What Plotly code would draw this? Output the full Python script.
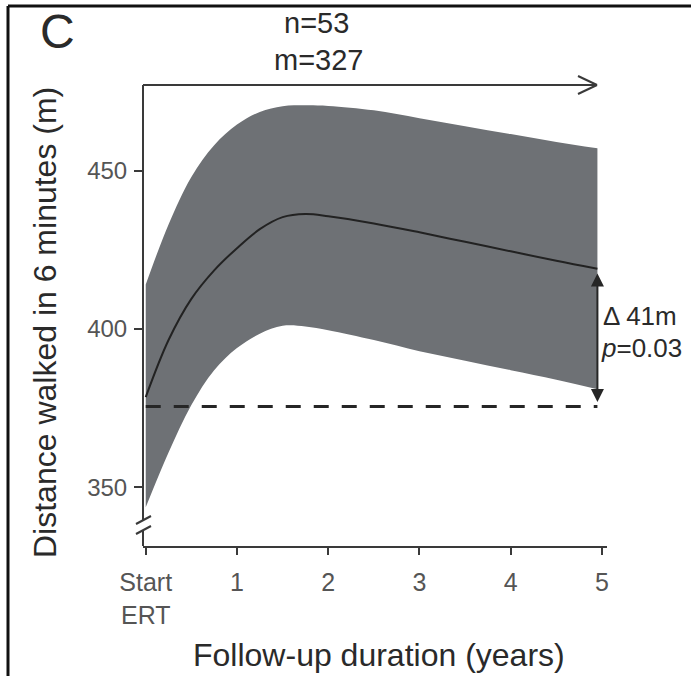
import plotly.graph_objects as go

# ---- data ----
years = [0, 0.25, 0.5, 0.75, 1, 1.25, 1.5, 1.75, 2, 2.5, 3, 3.5, 4, 4.5, 4.95]
upper = [414, 433, 448, 458, 464.5, 468.5, 470.3, 470.6, 470.4, 469, 466.5, 464, 461.5, 459, 457]
mean = [378.5, 396.5, 409.5, 418.5, 425.5, 431.5, 435.3, 436.3, 435.6, 433.3, 430.5, 427.5, 424.5, 421.5, 419]
lower = [343.7, 361, 376, 387, 394, 398.5, 401, 400.8, 399.6, 396.5, 393, 390, 387, 384, 381]
baseline = 375.5
x_ticks = [0, 1, 2, 3, 4, 5]
x_ticklabels = ["Start<br>ERT", "1", "2", "3", "4", "5"]
y_ticks = [350, 400, 450]
delta_label = "Δ 41m"
p_label = "<i>p</i>=0.03"

W, H = 691, 676
L, R, T, B = 143, 607, 85, 546
XR = [-0.03, 5.055]
YR = [331.5, 477]

def px(x):
    return (x - L) / (R - L)

def py(y):
    return (B - y) / (B - T)

FONT = "Arial, Liberation Sans, sans-serif"
AX = "#3a3a3a"
TXT = "#2a2a2a"

fig = go.Figure()
fig.add_trace(go.Scatter(x=years, y=lower, mode="lines", line=dict(width=0, shape="spline", color="#6e7175"),
                         showlegend=False, hoverinfo="skip"))
fig.add_trace(go.Scatter(x=years, y=upper, mode="lines", fill="tonexty", fillcolor="#6e7175",
                         line=dict(width=0, shape="spline", color="#6e7175"), showlegend=False))
fig.add_trace(go.Scatter(x=years, y=mean, mode="lines", line=dict(width=2, shape="spline", color="#222222"),
                         showlegend=False))
fig.add_trace(go.Scatter(x=[years[0], years[-1]], y=[baseline, baseline], mode="lines",
                         line=dict(width=3, color="#262626", dash="15px,13px"), showlegend=False))

shapes = []
# y axis line with break
shapes.append(dict(type="line", xref="paper", yref="paper", x0=0, x1=0, y0=py(546), y1=py(530),
                   line=dict(color=AX, width=2)))
shapes.append(dict(type="line", xref="paper", yref="paper", x0=0, x1=0, y0=py(521), y1=py(85),
                   line=dict(color=AX, width=2)))
# break slashes
for cy in (520, 530):
    shapes.append(dict(type="line", xref="paper", yref="paper", x0=px(136), x1=px(151), y0=py(cy + 4),
                       y1=py(cy - 4), line=dict(color=AX, width=2)))
# top arrow line
shapes.append(dict(type="line", xref="paper", yref="paper", x0=0, x1=px(597), y0=py(85), y1=py(85),
                   line=dict(color=AX, width=2)))
shapes.append(dict(type="line", xref="paper", yref="paper", x0=px(578), x1=px(597), y0=py(76), y1=py(85),
                   line=dict(color=AX, width=2)))
shapes.append(dict(type="line", xref="paper", yref="paper", x0=px(578), x1=px(597), y0=py(94), y1=py(85),
                   line=dict(color=AX, width=2)))
# frame of the figure panel
shapes.append(dict(type="line", xref="paper", yref="paper", x0=px(8), x1=px(8), y0=py(6), y1=py(676),
                   line=dict(color="#111111", width=3)))
shapes.append(dict(type="line", xref="paper", yref="paper", x0=px(8), x1=px(691), y0=py(6), y1=py(6),
                   line=dict(color="#111111", width=3)))

ann = []
# double arrow for the difference
ann.append(dict(x=years[-1], y=mean[-1] - 1.5, ax=years[-1], ay=baseline + 1.0, xref="x", yref="y",
                axref="x", ayref="y", text="", showarrow=True, arrowhead=2, arrowside="end+start",
                arrowsize=1.3, arrowwidth=2, arrowcolor="#262626"))
ann.append(dict(x=px(601), y=py(316), xref="paper", yref="paper", text=delta_label, showarrow=False,
                xanchor="left", yanchor="middle", font=dict(family=FONT, size=26, color=TXT)))
ann.append(dict(x=px(599), y=py(348), xref="paper", yref="paper", text=p_label, showarrow=False,
                xanchor="left", yanchor="middle", font=dict(family=FONT, size=26, color=TXT)))
# panel letter and n/m
ann.append(dict(x=px(57), y=py(31), xref="paper", yref="paper", text="C", showarrow=False,
                xanchor="center", yanchor="middle", font=dict(family=FONT, size=48, color=TXT)))
ann.append(dict(x=px(316), y=py(23), xref="paper", yref="paper", text="n=53", showarrow=False,
                xanchor="center", yanchor="middle", font=dict(family=FONT, size=29, color=TXT)))
ann.append(dict(x=px(318), y=py(60), xref="paper", yref="paper", text="m=327", showarrow=False,
                xanchor="center", yanchor="middle", font=dict(family=FONT, size=29, color=TXT)))
# axis titles
ann.append(dict(x=px(45), y=py(323), xref="paper", yref="paper", text="Distance walked in 6 minutes (m)",
                showarrow=False, textangle=-90, xanchor="center", yanchor="middle",
                font=dict(family=FONT, size=32, color=TXT)))
ann.append(dict(x=px(379), y=py(655), xref="paper", yref="paper", text="Follow-up duration (years)",
                showarrow=False, xanchor="center", yanchor="middle",
                font=dict(family=FONT, size=32, color=TXT)))

fig.update_layout(
    width=W, height=H, margin=dict(l=L, r=W - R, t=T, b=H - B),
    paper_bgcolor="white", plot_bgcolor="white",
    shapes=shapes, annotations=ann, showlegend=False,
    xaxis=dict(range=XR, tickvals=x_ticks, ticktext=x_ticklabels, showgrid=False, zeroline=False,
               showline=True, linecolor=AX, linewidth=2, ticks="outside", ticklen=7, tickwidth=2,
               tickcolor=AX, ticklabelstandoff=6,
               tickfont=dict(family=FONT, size=25, color="#555555"), fixedrange=True),
    yaxis=dict(range=YR, tickvals=y_ticks, showgrid=False, zeroline=False, showline=False,
               ticks="outside", ticklen=8, tickwidth=2, tickcolor=AX, ticklabelstandoff=2,
               tickfont=dict(family=FONT, size=24, color="#555555"), fixedrange=True),
)

fig.write_html("out.html")
